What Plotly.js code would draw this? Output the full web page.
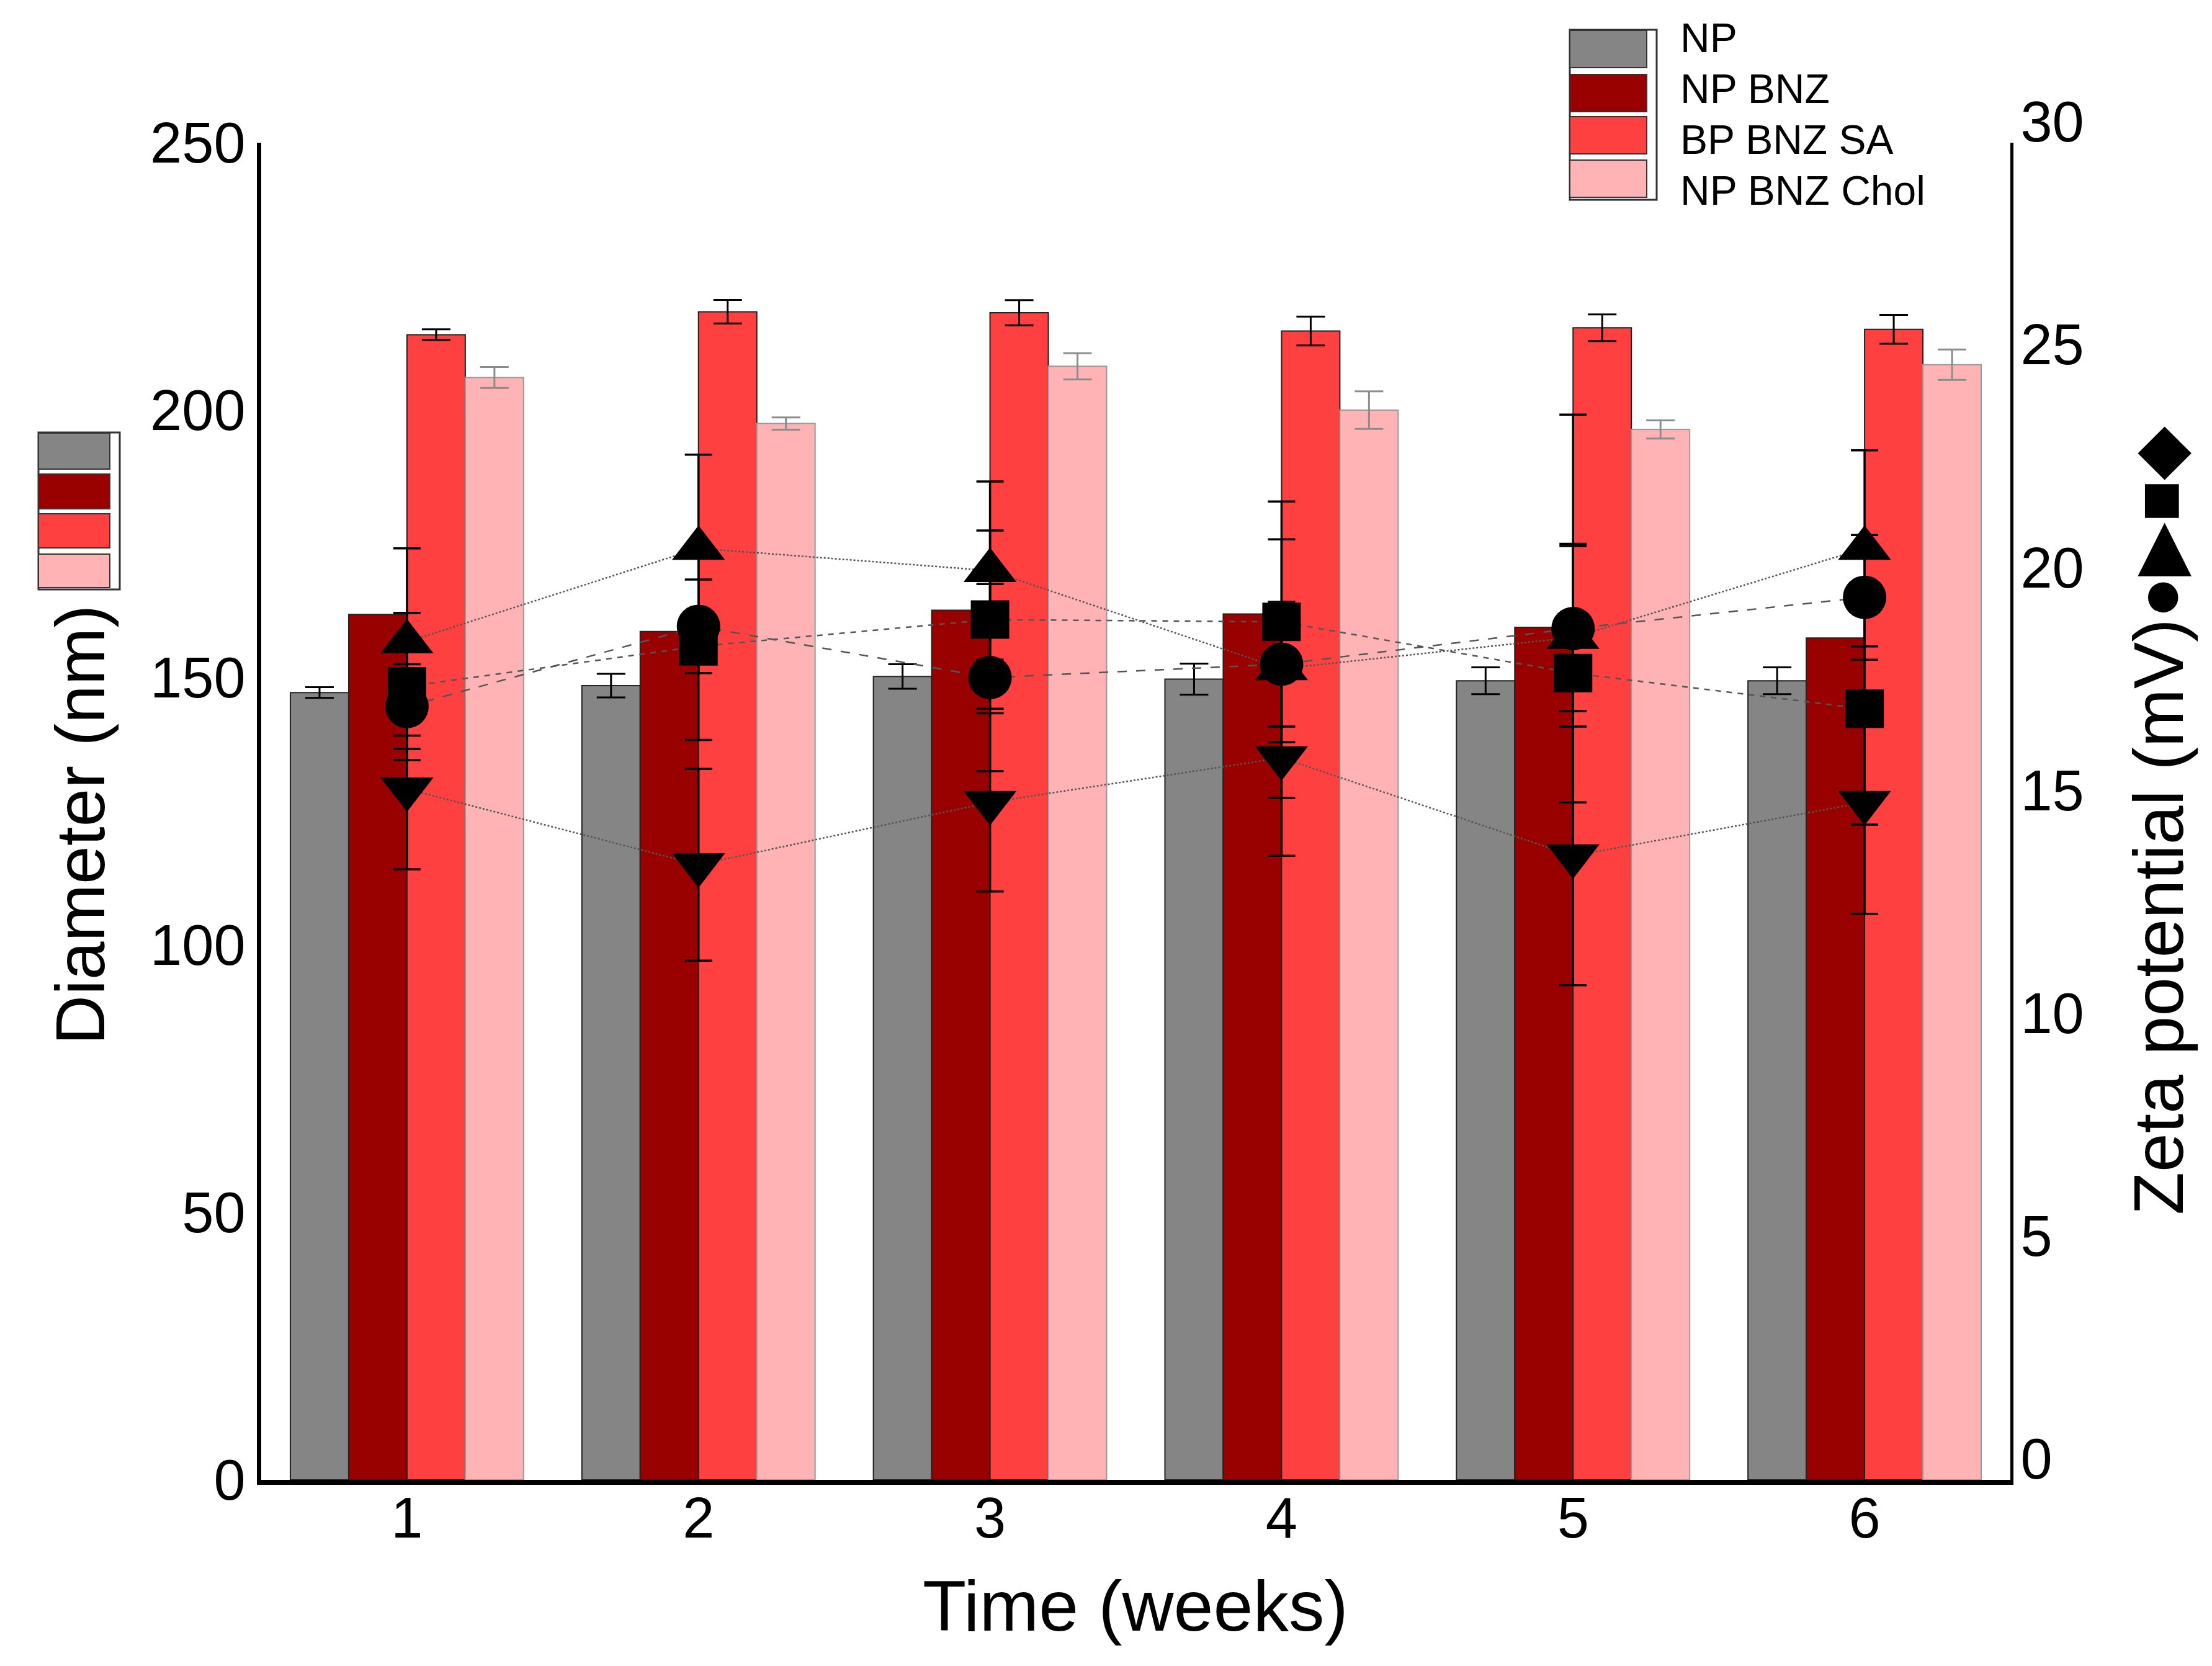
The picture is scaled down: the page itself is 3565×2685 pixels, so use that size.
<!DOCTYPE html>
<html>
<head>
<meta charset="utf-8">
<script src="https://cdn.plot.ly/plotly-3.0.1.min.js"></script>
<style>
  html, body { margin: 0; padding: 0; background: #fff; }
</style>
</head>
<body>
<div id="chart" style="width:3565px;height:2685px;"></div>
<script>
// weeks on the x axis
var weeks = [1, 2, 3, 4, 5, 6];
var weekLabels = ['1', '2', '3', '4', '5', '6'];

// particle diameter (nm), left axis
var barNames = ['NP', 'NP BNZ', 'BP BNZ SA', 'NP BNZ Chol'];
var barColors = ['#858585', '#990000', '#ff4040', '#ffb3b5'];
var npDiam = [147.2, 148.5, 150.2, 149.7, 149.4, 149.4];
var npErr = [1.0, 2.2, 2.3, 2.9, 2.5, 2.5];
var npBnzDiam = [161.8, 158.6, 162.6, 161.9, 159.4, 157.4];
var saDiam = [214.1, 218.4, 218.2, 214.8, 215.4, 215.1];
var saErr = [1.0, 2.2, 2.35, 2.7, 2.5, 2.7];
var cholDiam = [206.1, 197.5, 208.2, 200.0, 196.4, 208.5];
var cholErr = [1.95, 1.15, 2.45, 3.5, 1.7, 2.85];

// zeta potential (mV), right axis
var zetaTriUp = [18.8, 20.9, 20.4, 18.2, 18.9, 20.9];
var zetaTriUpErr = [2.1, 2.1, 2.0, 2.9, 5.0, 2.2];
var zetaSquare = [17.8, 18.7, 19.3, 19.25, 18.1, 17.3];
var zetaSquareErr = [1.65, 2.1, 2.0, 2.7, 2.9, 2.6];
var zetaCircle = [17.35, 19.15, 18.0, 18.3, 19.1, 19.8];
var zetaCircleErr = [0.95, 1.05, 2.1, 1.4, 1.85, 1.4];
var zetaTriDown = [15.5, 13.8, 15.2, 16.2, 14.0, 15.2];
var zetaTriDownErr = [1.8, 2.15, 2.0, 2.2, 2.9, 2.5];

var W = 3565, H = 2685;
var mL = 421, mR = 325, mT = 230, mB = 300;
function px(x) { return (x - mL) / (W - mL - mR); }
function py(y) { return (H - mB - y) / (H - mT - mB); }

function barTrace(i, y, err, errColor) {
  var t = {
    x: weeks, y: y, name: barNames[i], type: 'bar',
    marker: { color: barColors[i], line: { color: i === 3 ? '#9a9a9a' : '#222222', width: 2 } },
    hoverinfo: 'none'
  };
  if (err) {
    t.error_y = { type: 'data', array: err, visible: true, color: errColor, thickness: 3, width: 23 };
  }
  return t;
}

function zetaTrace(name, y, err, symbol, size, dash) {
  return {
    x: weeks, y: y, name: name, type: 'scatter', mode: 'lines+markers', yaxis: 'y2',
    marker: { symbol: symbol, size: size, color: '#000000' },
    line: { color: '#555555', width: 2.5, dash: dash },
    error_y: { type: 'data', array: err, visible: true, color: '#000000', thickness: 3.5, width: 22 },
    hoverinfo: 'none'
  };
}

var data = [
  barTrace(0, npDiam, npErr, '#000000'),
  barTrace(1, npBnzDiam, null, null),
  barTrace(2, saDiam, saErr, '#000000'),
  barTrace(3, cholDiam, cholErr, '#8c8c8c'),
  zetaTrace('Zeta triangle', zetaTriUp, zetaTriUpErr, 'triangle-up', 74, 'dot'),
  zetaTrace('Zeta square', zetaSquare, zetaSquareErr, 'square', 62, 'dash'),
  zetaTrace('Zeta circle', zetaCircle, zetaCircleErr, 'circle', 70, 'longdash'),
  zetaTrace('Zeta triangle down', zetaTriDown, zetaTriDownErr, 'triangle-down', 74, 'dot')
];

// legend boxes drawn as shapes
var shapes = [];
var annotations = [];
var legRows = [[49, 109], [120, 180], [188, 248], [258, 318]];
var legText = [61, 143, 225, 307];
shapes.push({ type: 'rect', xref: 'paper', yref: 'paper', x0: px(2530), x1: px(2670), y0: py(48), y1: py(322),
  fillcolor: '#ffffff', line: { color: '#333333', width: 3 } });
var sideRows = [[698, 756], [764, 820], [828, 883], [893, 947]];
shapes.push({ type: 'rect', xref: 'paper', yref: 'paper', x0: px(62), x1: px(193), y0: py(697), y1: py(950),
  fillcolor: '#ffffff', line: { color: '#333333', width: 3 } });
for (var i = 0; i < barNames.length; i++) {
  shapes.push({ type: 'rect', xref: 'paper', yref: 'paper', x0: px(2530), x1: px(2654),
    y0: py(legRows[i][0]), y1: py(legRows[i][1]), fillcolor: barColors[i], line: { color: '#333333', width: 2 } });
  shapes.push({ type: 'rect', xref: 'paper', yref: 'paper', x0: px(62), x1: px(177),
    y0: py(sideRows[i][0]), y1: py(sideRows[i][1]), fillcolor: barColors[i], line: { color: '#333333', width: 2 } });
  annotations.push({ xref: 'paper', yref: 'paper', x: px(2706), y: py(legText[i]), xanchor: 'left', yanchor: 'middle',
    text: barNames[i], showarrow: false, font: { size: 66, color: '#000000' } });
}

// axis titles
annotations.push({ xref: 'paper', yref: 'paper', x: px(130), y: py(1330), xanchor: 'center', yanchor: 'middle',
  textangle: -90, text: 'Diameter (nm)', showarrow: false, font: { size: 111 } });
annotations.push({ xref: 'paper', yref: 'paper', x: px(3479), y: py(1323), xanchor: 'center', yanchor: 'middle',
  textangle: -90, text: 'Zeta potential (mV)\u25CF\u25B6\u25A0\u25C6', showarrow: false, font: { size: 113 } });
annotations.push({ xref: 'paper', yref: 'paper', x: px(1830), y: py(2588), xanchor: 'center', yanchor: 'middle',
  text: 'Time (weeks)', showarrow: false, font: { size: 115 } });

var layout = {
  width: W, height: H, autosize: false,
  margin: { l: mL, r: mR, t: mT, b: mB, pad: 0 },
  paper_bgcolor: '#ffffff', plot_bgcolor: '#ffffff',
  font: { family: 'Liberation Sans, Arial, sans-serif', size: 92, color: '#000000' },
  barmode: 'group', bargap: 0.2, bargroupgap: 0,
  showlegend: false,
  xaxis: {
    range: [0.5, 6.5], tickvals: weeks, ticktext: weekLabels,
    showline: true, linewidth: 8, linecolor: '#000000', mirror: false,
    ticks: '', showgrid: false, zeroline: false, ticklabelstandoff: -25,
    tickfont: { size: 92 }
  },
  yaxis: {
    range: [0, 250], tickvals: [0, 50, 100, 150, 200, 250],
    showline: true, linewidth: 7, linecolor: '#000000',
    ticks: '', showgrid: false, zeroline: false, ticklabelstandoff: 0,
    tickfont: { size: 92 }
  },
  yaxis2: {
    range: [0, 30], tickvals: [0, 5, 10, 15, 20, 25, 30],
    overlaying: 'y', side: 'right',
    showline: true, linewidth: 5, linecolor: '#000000',
    ticks: '', showgrid: false, zeroline: false, ticklabelstandoff: -7,
    ticklabelshift: -34,
    tickfont: { size: 92 }
  },
  shapes: shapes,
  annotations: annotations
};

var config = { responsive: false, displayModeBar: false, staticPlot: true };

Plotly.newPlot('chart', data, layout, config);
</script>
</body>
</html>
